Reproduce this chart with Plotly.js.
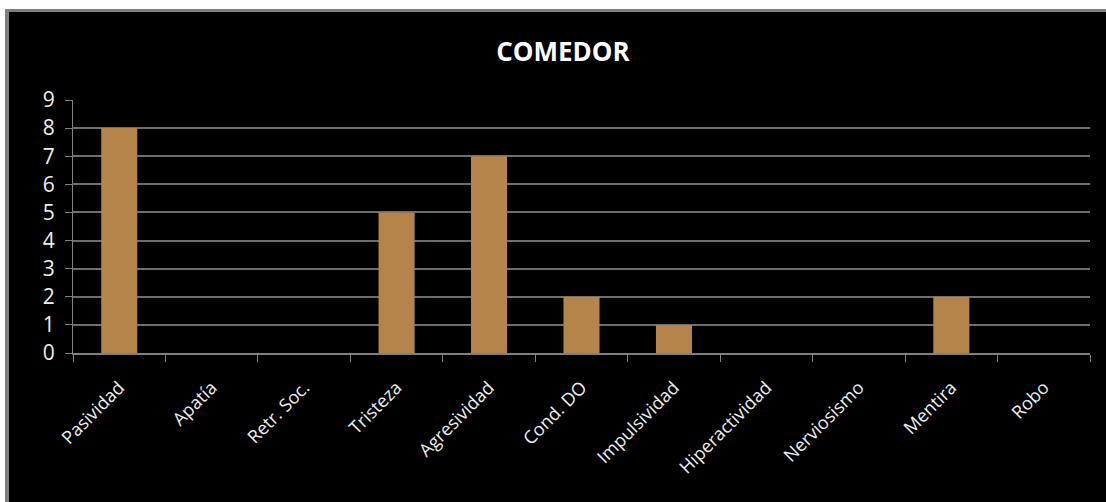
<!DOCTYPE html>
<html>
<head>
<meta charset="utf-8">
<script src="https://cdn.plot.ly/plotly-3.0.1.min.js"></script>
<style>
  html, body { margin: 0; padding: 0; background: #ffffff; width: 1106px; height: 502px; overflow: hidden; }
  #frame { position: absolute; left: 5px; top: 9px; border-top: 3px solid #7f7f7f; border-left: 4px solid #7f7f7f; background: #000; }
  #chart { width: 1097px; height: 490px; }
</style>
</head>
<body>
<div id="frame"><div id="chart"></div></div>
<script>
const categories = ["Pasividad", "Apatía", "Retr. Soc.", "Tristeza", "Agresividad", "Cond. DO", "Impulsividad", "Hiperactividad", "Nerviosismo", "Mentira", "Robo"];
const values = [8, 0, 0, 5, 7, 2, 1, 0, 0, 2, 0];
const yTicks = [0, 1, 2, 3, 4, 5, 6, 7, 8, 9];

const trace = {
  type: "bar",
  x: categories,
  y: values,
  marker: { color: "#B5844A", line: { width: 0 } },
  hoverinfo: "x+y"
};

const layout = {
  width: 1097,
  height: 490,
  paper_bgcolor: "#000000",
  plot_bgcolor: "#000000",
  margin: { l: 64, r: 16, t: 88, b: 149 },
  bargap: 0.61,
  showlegend: false,
  title: {
    text: "<b>COMEDOR</b>",
    font: { family: "Open Sans, sans-serif", size: 26, color: "#ffffff" },
    xref: "container", x: 0.505, xanchor: "center",
    yref: "container", y: 1 - 40 / 490, yanchor: "middle"
  },
  xaxis: {
    type: "category",
    tickangle: -45,
    tickson: "boundaries",
    ticks: "outside",
    ticklen: 7,
    tickcolor: "#808080",
    showline: true,
    linecolor: "#808080",
    linewidth: 2,
    showgrid: false,
    ticklabelstandoff: 15,
    tickfont: { family: "Open Sans, sans-serif", size: 18, color: "#eeeeee" }
  },
  yaxis: {
    range: [0, 9],
    tickvals: yTicks,
    ticks: "outside",
    ticklen: 7,
    tickcolor: "#808080",
    showline: true,
    linecolor: "#808080",
    linewidth: 1,
    showgrid: true,
    gridcolor: "#6e6e6e",
    gridwidth: 2,
    zeroline: false,
    ticklabelstandoff: 6,
    tickfont: { family: "Open Sans, sans-serif", size: 21, color: "#eeeeee" }
  }
};

Plotly.newPlot("chart", [trace], layout, { displayModeBar: false, staticPlot: true });
</script>
</body>
</html>
